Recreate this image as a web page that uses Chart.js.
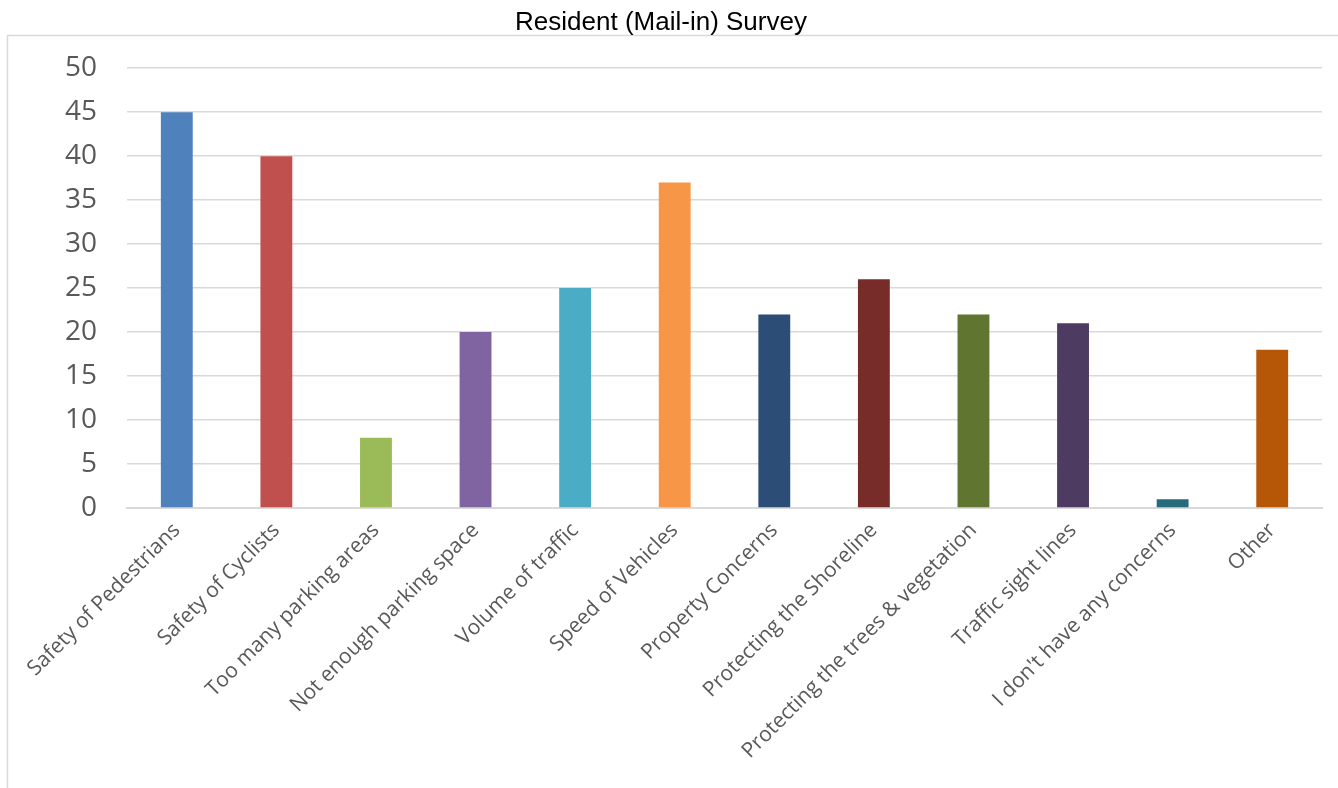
<!DOCTYPE html>
<html>
<head>
<meta charset="utf-8">
<script src="https://cdn.jsdelivr.net/npm/chart.js@4.4.0/dist/chart.umd.min.js"></script>
<style>
html,body{margin:0;padding:0;background:#fff;}
#wrap{position:relative;width:1338px;height:788px;}
</style>
</head>
<body>
<div id="wrap"><canvas id="c" width="1338" height="788"></canvas></div>
<script>
const categories = ["Safety of Pedestrians","Safety of Cyclists","Too many parking areas","Not enough parking space","Volume of traffic","Speed of Vehicles","Property Concerns","Protecting the Shoreline","Protecting the trees & vegetation","Traffic sight lines","I don't have any concerns","Other"];
const values = [45,40,8,20,25,37,22,26,22,21,1,18];
const barColors = ["#4F81BD","#C0504D","#9BBB59","#8064A2","#4BACC6","#F79646","#2C4D75","#772C2A","#5F7530","#4D3B62","#276A7C","#B65708"];
const yTicks = [0,5,10,15,20,25,30,35,40,45,50];

const framePlugin = {
  id:'frame',
  beforeDraw(chart){
    const ctx = chart.ctx;
    ctx.save();
    ctx.fillStyle='#fff';
    ctx.fillRect(0,0,chart.width,chart.height);
    ctx.strokeStyle='#d9d9d9';
    ctx.lineWidth=1.5;
    ctx.strokeRect(7.5,35.5,chart.width+20,chart.height+20);
    ctx.restore();
  }
};

new Chart(document.getElementById('c'),{
  type:'bar',
  data:{labels:categories,datasets:[{data:values,backgroundColor:barColors,barPercentage:0.32,categoryPercentage:1}]},
  options:{
    responsive:false,animation:false,
    layout:{padding:{left:0,right:16,top:0,bottom:0}},
    plugins:{
      legend:{display:false},tooltip:{enabled:false},
      title:{display:true,text:'Resident (Mail-in) Survey',color:'#000',
        font:{family:'"Liberation Sans", Arial, sans-serif',size:26,weight:'normal',lineHeight:1.2},
        padding:{top:7,bottom:30}}
    },
    scales:{
      x:{
        grid:{display:false,drawTicks:false},
        border:{display:true,color:'#d9d9d9',width:2},
        ticks:{color:'#595959',font:{family:'"Open Sans", sans-serif',size:21},minRotation:45,maxRotation:45,autoSkip:false,padding:10},
        afterFit(s){s.height=280;}
      },
      y:{
        min:0,max:50,
        afterBuildTicks(s){s.ticks=yTicks.map(v=>({value:v}));},
        grid:{color:'#d9d9d9',lineWidth:1.5,drawTicks:false},
        border:{display:false},
        ticks:{color:'#595959',font:{family:'"Open Sans", sans-serif',size:28},padding:30},
        afterFit(s){s.width=127;}
      }
    }
  },
  plugins:[framePlugin]
});
</script>
</body>
</html>
